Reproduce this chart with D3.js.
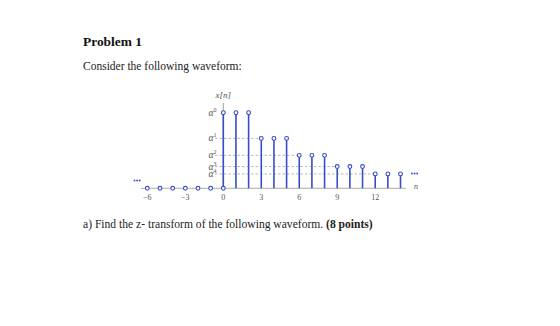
<!DOCTYPE html>
<html><head><meta charset="utf-8">
<script src="https://cdn.jsdelivr.net/npm/d3@7"></script>
<style>body{margin:0;background:#fff}svg{display:block}</style>
</head><body>
<script>
// data
const nValues = d3.range(-6, 15);
const levelIndex = n => n < 0 ? null : Math.floor(n / 3); // exponent k for alpha^k
const alpha = 0.66;
const levelExponents = [0, 1, 2, 3, 4];
const xTicks = [-6, -3, 0, 3, 6, 9, 12];
const title = "Problem 1";
const intro = "Consider the following waveform:";
const question = "a) Find the z- transform of the following waveform.";
const points = " (8 points)";

const W = 560, H = 326;
const svg = d3.select("body").append("svg").attr("width", W).attr("height", H);

const x = d3.scaleLinear().domain([0, 12]).range([223.3, 375.2]);
const y = d3.scaleLinear().domain([0, 1]).range([188.3, 112.7]);
const blue = "#3a4cc8";
const serif = "Liberation Serif, DejaVu Serif, serif";
const textFont = "Liberation Serif, serif";

// texts
const t1 = svg.append("text").attr("x", 83).attr("y", 45.5).attr("font-family", textFont)
  .attr("font-weight", "bold").attr("font-size", 13.5).attr("fill", "#111").text(title);
const t2 = svg.append("text").attr("x", 83).attr("y", 70).attr("font-family", textFont)
  .attr("font-size", 11).attr("fill", "#222").text(intro);
const q = svg.append("text").attr("x", 83).attr("y", 227.5).attr("font-family", textFont)
  .attr("font-size", 11).attr("fill", "#222");
q.append("tspan").text(question);
q.append("tspan").attr("font-weight", "bold").text(points);
// fit widths to reference
[[t1, 59], [t2, 159], [q, 290]].forEach(([t, w]) => {
  const cw = t.node().getComputedTextLength();
  const fs = +t.attr("font-size");
  t.attr("font-size", fs * w / cw);
});

// baseline
svg.append("line").attr("x1", 141).attr("x2", 406).attr("y1", y(0)).attr("y2", y(0))
  .attr("stroke", "#999").attr("stroke-width", 0.8);
// y axis line
svg.append("line").attr("x1", x(0)).attr("x2", x(0)).attr("y1", 103).attr("y2", y(0))
  .attr("stroke", "#888").attr("stroke-width", 0.8);

// dashed level lines
levelExponents.slice(1).forEach(k => {
  svg.append("line").attr("x1", 215).attr("x2", x(3 * k)).attr("y1", y(Math.pow(alpha, k))).attr("y2", y(Math.pow(alpha, k)))
    .attr("stroke", "#999").attr("stroke-width", 0.7).attr("stroke-dasharray", "2.5,2");
});

// level labels
levelExponents.forEach(k => {
  const t = svg.append("text").attr("x", 216.5).attr("y", y(Math.pow(alpha, k)) + 3)
    .attr("text-anchor", "end").attr("font-family", serif).attr("font-style", "italic")
    .attr("font-size", 9.5).attr("fill", "#555");
  t.append("tspan").text("\u03b1");
  t.append("tspan").attr("font-size", 6).attr("font-style", "normal").attr("dy", -4).text(k);
});

// x[n] label
svg.append("text").attr("x", x(0)).attr("y", 97.5).attr("text-anchor", "middle")
  .attr("font-family", serif).attr("font-style", "italic").attr("font-size", 9).attr("fill", "#555").text("x[n]");

// stems
const data = nValues.map(n => ({n, v: n < 0 ? 0 : Math.pow(alpha, levelIndex(n))}));
svg.selectAll(".stem").data(data.filter(d => d.v > 0)).enter().append("line")
  .attr("x1", d => x(d.n)).attr("x2", d => x(d.n)).attr("y1", y(0)).attr("y2", d => y(d.v))
  .attr("stroke", blue).attr("stroke-width", 1.6);
// baseline circles (n<=0)
svg.selectAll(".zc").data(nValues.filter(n => n <= 0)).enter().append("circle")
  .attr("cx", d => x(d)).attr("cy", y(0)).attr("r", 1.9)
  .attr("fill", "#fff").attr("stroke", blue).attr("stroke-width", 1.1);
// top circles
svg.selectAll(".tc").data(data.filter(d => d.v > 0)).enter().append("circle")
  .attr("cx", d => x(d.n)).attr("cy", d => y(d.v)).attr("r", 1.9)
  .attr("fill", "#fff").attr("stroke", blue).attr("stroke-width", 1.1);

// ellipsis dots
[[134.5, 180.5], [412, 173.5]].forEach(([cx, cy]) => {
  [0, 2.6, 5.2].forEach(dx => svg.append("circle").attr("cx", cx + dx).attr("cy", cy).attr("r", 0.95).attr("fill", blue));
});

// tick labels
svg.selectAll(".tl").data(xTicks).enter().append("text")
  .attr("x", d => x(d)).attr("y", 200).attr("text-anchor", "middle")
  .attr("font-family", serif).attr("font-size", 8).attr("fill", "#555")
  .text(d => d < 0 ? "\u2212" + Math.abs(d) : d);
// n label
svg.append("text").attr("x", 416).attr("y", 189).attr("text-anchor", "middle")
  .attr("font-family", serif).attr("font-style", "italic").attr("font-size", 8).attr("fill", "#555").text("n");
</script>
</body></html>
